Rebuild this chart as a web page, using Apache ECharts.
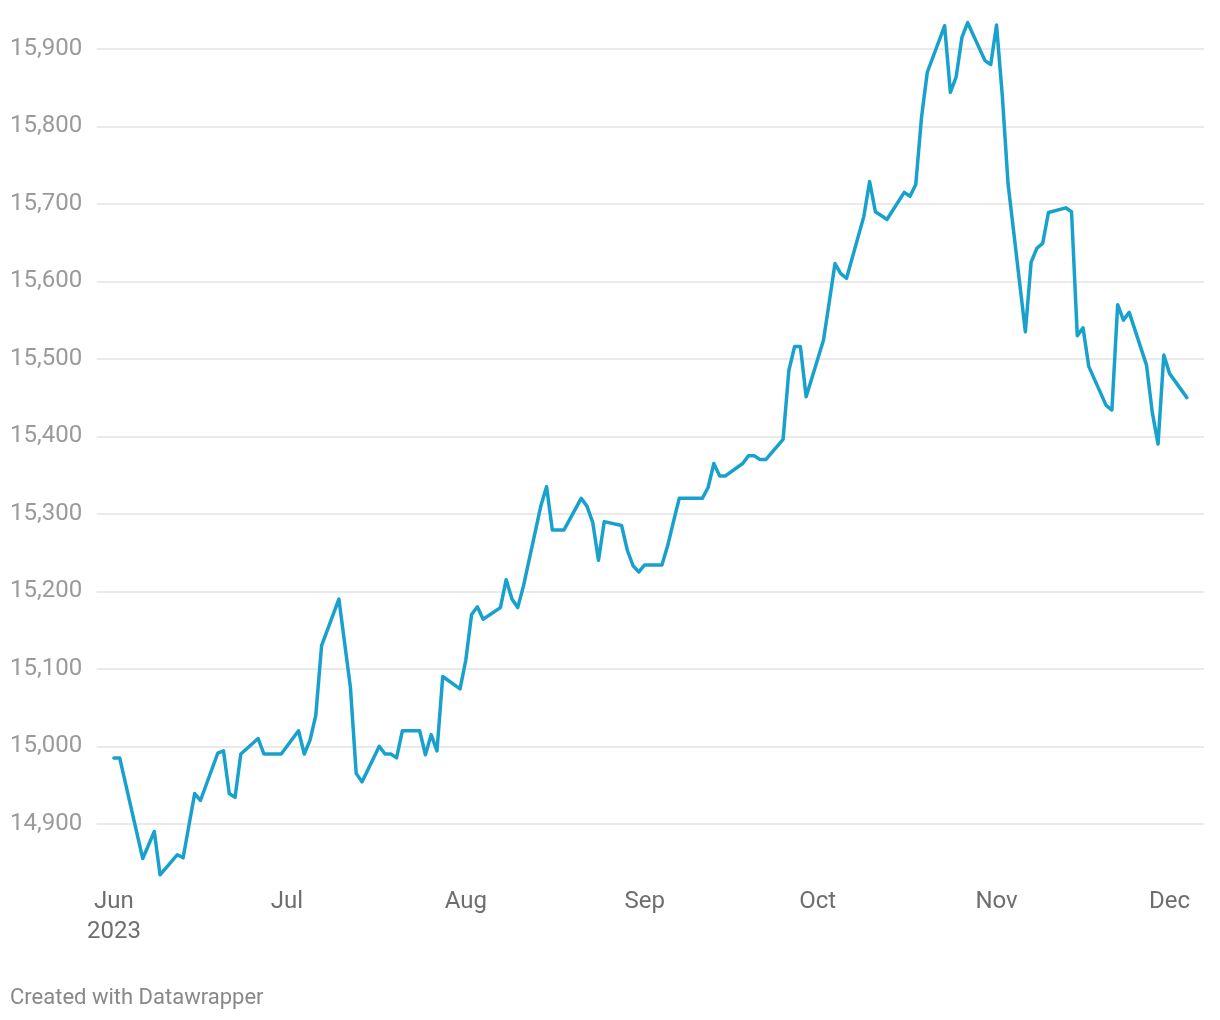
<!DOCTYPE html>
<html>
<head>
<meta charset="utf-8">
<script src="https://cdn.jsdelivr.net/npm/echarts@6/dist/echarts.min.js"></script>
<style>
html,body{margin:0;padding:0;background:#ffffff;}
#chart{width:1220px;height:1020px;}
</style>
</head>
<body>
<div id="chart"></div>
<script>
// ---- data ----
const dates = [
  '2023-06-01','2023-06-02','2023-06-06','2023-06-08','2023-06-09','2023-06-12','2023-06-13','2023-06-15','2023-06-16',
  '2023-06-19','2023-06-20','2023-06-21','2023-06-22','2023-06-23','2023-06-26','2023-06-27','2023-06-28','2023-06-29','2023-06-30',
  '2023-07-03','2023-07-04','2023-07-05','2023-07-06','2023-07-07','2023-07-10','2023-07-12','2023-07-13','2023-07-14',
  '2023-07-17','2023-07-18','2023-07-19','2023-07-20','2023-07-21','2023-07-24','2023-07-25','2023-07-26','2023-07-27','2023-07-28',
  '2023-07-31','2023-08-01','2023-08-02','2023-08-03','2023-08-04','2023-08-07','2023-08-08','2023-08-09','2023-08-10','2023-08-11',
  '2023-08-14','2023-08-15','2023-08-16','2023-08-17','2023-08-18','2023-08-21','2023-08-22','2023-08-23','2023-08-24','2023-08-25',
  '2023-08-28','2023-08-29','2023-08-30','2023-08-31','2023-09-01','2023-09-04','2023-09-05','2023-09-06','2023-09-07','2023-09-08',
  '2023-09-11','2023-09-12','2023-09-13','2023-09-14','2023-09-15','2023-09-18','2023-09-19','2023-09-20','2023-09-21','2023-09-22',
  '2023-09-25','2023-09-26','2023-09-27','2023-09-28','2023-09-29','2023-10-02','2023-10-03','2023-10-04','2023-10-05','2023-10-06',
  '2023-10-09','2023-10-10','2023-10-11','2023-10-12','2023-10-13','2023-10-16','2023-10-17','2023-10-18','2023-10-19','2023-10-20',
  '2023-10-23','2023-10-24','2023-10-25','2023-10-26','2023-10-27','2023-10-30','2023-10-31','2023-11-01','2023-11-02','2023-11-03',
  '2023-11-06','2023-11-07','2023-11-08','2023-11-09','2023-11-10','2023-11-13','2023-11-14','2023-11-15','2023-11-16','2023-11-17',
  '2023-11-20','2023-11-21','2023-11-22','2023-11-23','2023-11-24','2023-11-27','2023-11-28','2023-11-29','2023-11-30','2023-12-01',
  '2023-12-04'
];
const values = [
  14985,14985,14855,14890,14834,14860,14856,14939,14930,
  14991,14994,14939,14934,14990,15010,14990,14990,14990,14990,
  15020,14990,15008,15040,15130,15190,15076,14965,14954,
  15000,14990,14990,14985,15020,15020,14989,15015,14994,15090,
  15074,15111,15170,15180,15164,15179,15215,15190,15179,15207,
  15310,15335,15279,15279,15279,15320,15310,15289,15240,15290,
  15285,15253,15233,15225,15234,15234,15259,15290,15320,15320,
  15320,15334,15365,15349,15349,15365,15375,15375,15370,15370,
  15396,15485,15516,15516,15451,15524,15573,15623,15610,15604,
  15684,15729,15690,15685,15680,15715,15710,15725,15812,15870,
  15930,15844,15864,15915,15934,15885,15880,15931,15840,15726,
  15535,15625,15643,15649,15689,15695,15690,15530,15540,15490,
  15440,15434,15570,15550,15560,15492,15431,15390,15505,15481,
  15450
];
// month tick labels
const monthLabels = {'06':'Jun\n2023','07':'Jul','08':'Aug','09':'Sep','10':'Oct','11':'Nov','12':'Dec'};
// y axis ticks
const yMin = 14800, yMax = 15950, yStep = 100;

// calendar day categories for the x axis
function pad(n){ return n < 10 ? '0' + n : '' + n; }
const axisDays = [];
for (let d = new Date(Date.UTC(2023,4,29)); d <= new Date(Date.UTC(2023,11,7)); d.setUTCDate(d.getUTCDate()+1)) {
  axisDays.push(d.getUTCFullYear() + '-' + pad(d.getUTCMonth()+1) + '-' + pad(d.getUTCDate()));
}

const chart = echarts.init(document.getElementById('chart'), null, {renderer:'canvas'});
chart.setOption({
  animation: false,
  backgroundColor: '#ffffff',
  title: {
    text: 'Created with Datawrapper',
    left: 10, top: 986, padding: 0,
    textStyle: {fontFamily: 'Roboto', fontSize: 22, fontWeight: 'normal', color: '#888888', lineHeight: 24}
  },
  grid: {left: 96.6, right: 15.8, top: 10.27, bottom: 118.8},
  xAxis: {
    type: 'category',
    data: axisDays,
    boundaryGap: false,
    axisLine: {show: false},
    axisTick: {show: false},
    splitLine: {show: false},
    axisLabel: {
      interval: function (i, v) { return v.slice(8) === '01'; },
      formatter: function (v) { return monthLabels[v.slice(5,7)] || ''; },
      color: '#6e6e6e', fontFamily: 'Roboto', fontSize: 24, lineHeight: 30, margin: -14, align: 'center'
    }
  },
  yAxis: {
    type: 'value',
    min: yMin, max: yMax, interval: yStep,
    axisLine: {show: false},
    axisTick: {show: false},
    splitLine: {show: true, showMinLine: false, showMaxLine: false, lineStyle: {color: '#e3e3e3', width: 1.5}},
    axisLabel: {
      align: 'left', margin: 86.6,
      color: '#9a9a9a', fontFamily: 'Roboto', fontSize: 24,
      formatter: function (v) {
        if (v <= yMin || v > 15900 || v % 100 !== 0) return '';
        return v.toLocaleString('en-US');
      }
    }
  },
  series: [{
    type: 'line',
    data: dates.map(function (d, i) { return [d, values[i]]; }),
    showSymbol: false,
    symbol: 'none',
    lineStyle: {color: '#18a1cd', width: 3.5, join: 'round', cap: 'round'},
    itemStyle: {color: '#18a1cd'}
  }]
});
</script>
</body>
</html>
